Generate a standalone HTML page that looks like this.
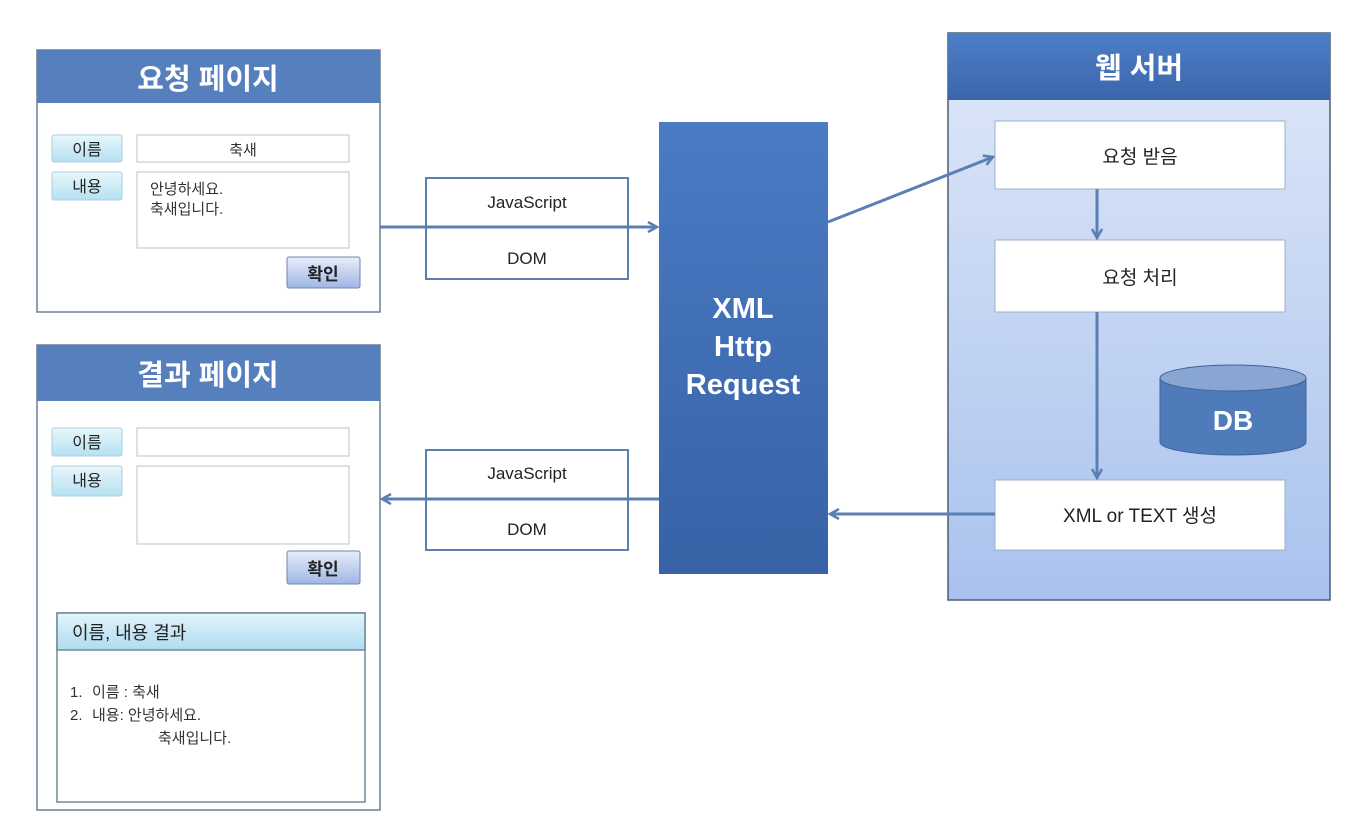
<!DOCTYPE html>
<html><head><meta charset="utf-8">
<style>
html,body{margin:0;padding:0;background:#fff;width:1370px;height:832px;overflow:hidden}
svg text{font-family:"Liberation Sans","Noto Sans CJK KR","NanumGothic",sans-serif}
</style></head><body>
<svg width="1370" height="832" viewBox="0 0 1370 832" xmlns="http://www.w3.org/2000/svg">
<defs>
<linearGradient id="btn" x1="0" y1="0" x2="0" y2="1"><stop offset="0" stop-color="#e9f6fb"/><stop offset="1" stop-color="#b5e1f1"/></linearGradient>
<linearGradient id="ok" x1="0" y1="0" x2="0" y2="1"><stop offset="0" stop-color="#e8eefa"/><stop offset="1" stop-color="#9fb6e4"/></linearGradient>
<linearGradient id="xhr" x1="0" y1="0" x2="0" y2="1"><stop offset="0" stop-color="#4a7bc4"/><stop offset="1" stop-color="#3762a6"/></linearGradient>
<linearGradient id="srv" x1="0" y1="0" x2="0" y2="1"><stop offset="0" stop-color="#dfe8f8"/><stop offset="1" stop-color="#a9c2ee"/></linearGradient>
<linearGradient id="srvh" x1="0" y1="0" x2="0" y2="1"><stop offset="0" stop-color="#4e7fc8"/><stop offset="1" stop-color="#3a65aa"/></linearGradient>
<linearGradient id="resh" x1="0" y1="0" x2="0" y2="1"><stop offset="0" stop-color="#e4f4fb"/><stop offset="1" stop-color="#aedcf0"/></linearGradient>
<marker id="ar" markerWidth="12" markerHeight="12" refX="10" refY="6" orient="auto" markerUnits="userSpaceOnUse"><path d="M1,1 L10,6 L1,11" fill="none" stroke="#5a7fb3" stroke-width="2.5"/></marker>
</defs>

<!-- Request page -->
<rect x="37" y="50" width="343" height="262" fill="#fff" stroke="#6b7f99" stroke-width="1.5"/>
<rect x="37" y="50" width="343" height="53" fill="#5680bd"/>
<text x="208" y="89" font-size="29" font-weight="bold" fill="#fff" text-anchor="middle">요청 페이지</text>
<rect x="52" y="135" width="70" height="27" rx="2" fill="url(#btn)" stroke="#a9cfe0"/>
<text x="87" y="155" font-size="16" text-anchor="middle" fill="#222">이름</text>
<rect x="52" y="172" width="70" height="28" rx="2" fill="url(#btn)" stroke="#a9cfe0"/>
<text x="87" y="192" font-size="16" text-anchor="middle" fill="#222">내용</text>
<rect x="137" y="135" width="212" height="27" fill="#fff" stroke="#b8c4c4"/>
<text x="243" y="155" font-size="15" text-anchor="middle" fill="#333">축새</text>
<rect x="137" y="172" width="212" height="76" fill="#fff" stroke="#b8c4c4"/>
<text x="150" y="194" font-size="15" fill="#333">안녕하세요.</text>
<text x="150" y="214" font-size="15" fill="#333">축새입니다.</text>
<rect x="287" y="257" width="73" height="31" rx="2" fill="url(#ok)" stroke="#6f86ad"/>
<text x="323" y="280" font-size="17" font-weight="bold" text-anchor="middle" fill="#222">확인</text>

<!-- Result page -->
<rect x="37" y="345" width="343" height="465" fill="#fff" stroke="#6b7f99" stroke-width="1.5"/>
<rect x="37" y="345" width="343" height="56" fill="#5680bd"/>
<text x="208" y="385" font-size="29" font-weight="bold" fill="#fff" text-anchor="middle">결과 페이지</text>
<rect x="52" y="428" width="70" height="28" rx="2" fill="url(#btn)" stroke="#a9cfe0"/>
<text x="87" y="448" font-size="16" text-anchor="middle" fill="#222">이름</text>
<rect x="52" y="466" width="70" height="30" rx="2" fill="url(#btn)" stroke="#a9cfe0"/>
<text x="87" y="486" font-size="16" text-anchor="middle" fill="#222">내용</text>
<rect x="137" y="428" width="212" height="28" fill="#fff" stroke="#b8c4c4"/>
<rect x="137" y="466" width="212" height="78" fill="#fff" stroke="#b8c4c4"/>
<rect x="287" y="551" width="73" height="33" rx="2" fill="url(#ok)" stroke="#6f86ad"/>
<text x="323" y="575" font-size="17" font-weight="bold" text-anchor="middle" fill="#222">확인</text>
<rect x="57" y="613" width="308" height="189" fill="#fff" stroke="#6f8a96" stroke-width="1.5"/>
<rect x="57" y="613" width="308" height="37" fill="url(#resh)" stroke="#6f8a96" stroke-width="1.5"/>
<text x="72" y="639" font-size="18" fill="#222">이름, 내용 결과</text>
<text x="70" y="697" font-size="15" fill="#333">1.</text>
<text x="92" y="697" font-size="15" fill="#333">이름 : 축새</text>
<text x="70" y="720" font-size="15" fill="#333">2.</text>
<text x="92" y="720" font-size="15" fill="#333">내용: 안녕하세요.</text>
<text x="158" y="743" font-size="15" fill="#333">축새입니다.</text>

<!-- JS/DOM boxes -->
<rect x="426" y="178" width="202" height="101" fill="#fff" stroke="#5a7fb3" stroke-width="2"/>
<text x="527" y="208" font-size="17" text-anchor="middle" fill="#222">JavaScript</text>
<text x="527" y="264" font-size="17" text-anchor="middle" fill="#222">DOM</text>
<rect x="426" y="450" width="202" height="100" fill="#fff" stroke="#5a7fb3" stroke-width="2"/>
<text x="527" y="479" font-size="17" text-anchor="middle" fill="#222">JavaScript</text>
<text x="527" y="535" font-size="17" text-anchor="middle" fill="#222">DOM</text>

<!-- XHR -->
<rect x="659" y="122" width="169" height="452" fill="url(#xhr)"/>
<text x="743" y="318" font-size="29" font-weight="bold" text-anchor="middle" fill="#fff">XML</text>
<text x="743" y="356" font-size="29" font-weight="bold" text-anchor="middle" fill="#fff">Http</text>
<text x="743" y="394" font-size="29" font-weight="bold" text-anchor="middle" fill="#fff">Request</text>

<!-- Web server -->
<rect x="948" y="33" width="382" height="567" fill="url(#srv)" stroke="#4d5d75" stroke-width="1.5"/>
<rect x="948" y="33" width="382" height="67" fill="url(#srvh)"/>
<text x="1139" y="78" font-size="29" font-weight="bold" text-anchor="middle" fill="#fff">웹 서버</text>
<rect x="995" y="121" width="290" height="68" fill="#fff" stroke="#9bb2c8"/>
<text x="1140" y="163" font-size="19" text-anchor="middle" fill="#222">요청 받음</text>
<rect x="995" y="240" width="290" height="72" fill="#fff" stroke="#9bb2c8"/>
<text x="1140" y="284" font-size="19" text-anchor="middle" fill="#222">요청 처리</text>
<rect x="995" y="480" width="290" height="70" fill="#fff" stroke="#9bb2c8"/>
<text x="1140" y="522" font-size="19" text-anchor="middle" fill="#222">XML or TEXT 생성</text>
<!-- DB -->
<path d="M1160,378 L1160,442 A73,13 0 0 0 1306,442 L1306,378" fill="#4f7bbb" stroke="#3e6498"/>
<ellipse cx="1233" cy="378" rx="73" ry="13" fill="#89a6d2" stroke="#3e6498"/>
<text x="1233" y="430" font-size="28" font-weight="bold" text-anchor="middle" fill="#fff">DB</text>

<!-- Arrows -->
<g stroke="#5a7fb3" stroke-width="3" fill="none">
<line x1="380" y1="227" x2="657" y2="227" marker-end="url(#ar)"/>
<line x1="828" y1="222" x2="993" y2="157" marker-end="url(#ar)"/>
<line x1="1097" y1="189" x2="1097" y2="238" marker-end="url(#ar)"/>
<line x1="1097" y1="312" x2="1097" y2="478" marker-end="url(#ar)"/>
<line x1="995" y1="514" x2="830" y2="514" marker-end="url(#ar)"/>
<line x1="659" y1="499" x2="382" y2="499" marker-end="url(#ar)"/>
</g>
</svg>
</body></html>
